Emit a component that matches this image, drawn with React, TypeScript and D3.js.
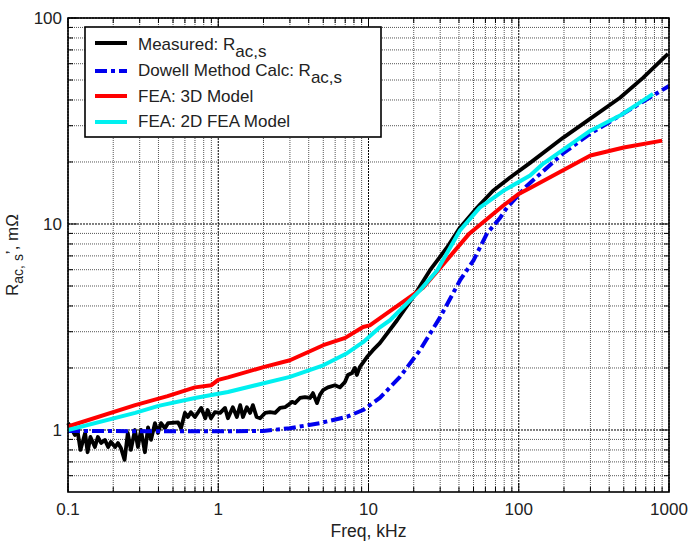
import React from "react";
import * as d3 from "d3";

type Pt = [number, number];

const measured: Pt[] = [
  [0.1, 1.08], [0.105, 1.02], [0.111, 0.946], [0.116, 0.978], [0.121, 0.8], [0.13, 0.967],
  [0.135, 0.78], [0.141, 0.925], [0.151, 0.827], [0.158, 0.925], [0.166, 0.865], [0.176, 0.895],
  [0.185, 0.827], [0.193, 0.875], [0.206, 0.827], [0.215, 0.865], [0.225, 0.818], [0.238, 0.716],
  [0.25, 0.967], [0.262, 0.8], [0.279, 1.0], [0.292, 0.827], [0.306, 1.0], [0.325, 0.78],
  [0.341, 1.03], [0.357, 0.895], [0.379, 1.08], [0.397, 0.967], [0.416, 1.08], [0.442, 1.02],
  [0.464, 1.08], [0.54, 1.09], [0.565, 1.02], [0.6, 1.21], [0.628, 1.156], [0.657, 1.22],
  [0.7, 1.156], [0.73, 1.21], [0.77, 1.28], [0.82, 1.14], [0.85, 1.25], [0.895, 1.14],
  [0.95, 1.22], [1.03, 1.21], [1.11, 1.28], [1.16, 1.14], [1.25, 1.29], [1.33, 1.156],
  [1.4, 1.32], [1.46, 1.156], [1.55, 1.29], [1.63, 1.21], [1.7, 1.32], [1.8, 1.156],
  [1.9, 1.14], [2.05, 1.21], [2.21, 1.22], [2.39, 1.21], [2.58, 1.28], [2.78, 1.29],
  [2.91, 1.32], [3.1, 1.37], [3.24, 1.35], [3.5, 1.43], [3.78, 1.445], [4.08, 1.43],
  [4.27, 1.51], [4.54, 1.35], [4.75, 1.48], [4.98, 1.56], [5.37, 1.61], [5.98, 1.65],
  [6.45, 1.61], [6.97, 1.71], [7.29, 1.85], [7.76, 1.89], [8.12, 2.0], [8.37, 1.85],
  [8.75, 2.02], [9.77, 2.26], [10.7, 2.44], [11.9, 2.64], [15.5, 3.41], [19.8, 4.41],
  [25.6, 5.95], [33.3, 7.69], [40.6, 9.6], [52.7, 12.0], [67.4, 14.5], [87.5, 16.8],
  [119, 19.8], [197, 26.2], [298, 32.4], [472, 41.0], [671, 51.2], [984, 67.0],
];

const dowell: Pt[] = [
  [0.1, 0.99], [0.5, 0.985], [1, 0.985], [2, 0.99], [3, 1.02], [4.75, 1.08], [7.2, 1.16],
  [9.2, 1.25], [11.9, 1.43], [16.2, 1.81], [22, 2.44], [30, 3.53], [40.6, 5.32], [50, 6.66],
  [61.5, 9.0], [75, 10.7], [83.5, 12.0], [113, 15.3], [197, 22.0], [298, 27.4], [494, 34.3],
  [1000, 46.8],
];

const fea3d: Pt[] = [
  [0.1, 1.04], [0.28, 1.32], [0.46, 1.46], [0.7, 1.61], [0.9, 1.65], [1.0, 1.75], [1.16, 1.8],
  [2, 2.02], [3, 2.18], [5, 2.58], [7, 2.8], [9.2, 3.16], [10.2, 3.22], [12, 3.5], [23, 4.9],
  [29, 5.95], [47, 9.0], [79, 12.3], [100, 14.0], [120, 15.0], [300, 21.5], [500, 23.5],
  [900, 25.4],
];

const fea2d: Pt[] = [
  [0.1, 1.0], [0.28, 1.21], [0.4, 1.31], [0.7, 1.43], [1.16, 1.53], [3, 1.81], [5, 2.06],
  [7.2, 2.36], [9.2, 2.67], [11.9, 3.15], [13.9, 3.41], [22, 4.76], [28.6, 5.95], [40.6, 9.3],
  [55, 12.0], [79, 14.5], [119, 17.2], [145, 19.6], [298, 28.3], [472, 33.6], [783, 42.8],
];

const xMajor = [0.1, 1, 10, 100, 1000];
const xTickLabels = ["0.1", "1", "10", "100", "1000"];
const yMajor = [1, 10, 100];
const yTickLabels = ["1", "10", "100"];

const W = 688;
const H = 542;
const L = 68, R = 669, T = 18, B = 492;
const FONT = "'Liberation Sans', Arial, sans-serif";
const TXT = "#222";

export default function App() {
  const x = d3.scaleLog().domain([0.1, 1000]).range([L, R]);
  const y = d3.scaleLog().domain([0.5, 100]).range([B, T]);

  const xMinor: number[] = [];
  [0.1, 1, 10, 100].forEach((d) => { for (let k = 2; k <= 9; k++) xMinor.push(d * k); });
  const yMinor: number[] = [];
  [0.1, 1, 10].forEach((d) => {
    for (let k = 2; k <= 9; k++) { const v = d * k; if (v > 0.5 && v < 100) yMinor.push(v); }
  });

  const line = d3.line<Pt>().x((d) => x(d[0])).y((d) => y(d[1]));

  const legend = [
    { label: "Measured: R", sub: "ac,s", color: "#000", dash: undefined as string | undefined, w: 4 },
    { label: "Dowell Method Calc: R", sub: "ac,s", color: "#0000ee", dash: "12,4,4,4", w: 4 },
    { label: "FEA: 3D Model", sub: "", color: "#ff0000", dash: undefined, w: 4 },
    { label: "FEA: 2D FEA Model", sub: "", color: "#00f0f0", dash: undefined, w: 4 },
  ];
  const legY = [43, 71, 96, 122];
  const legTxtY = [50, 76, 102, 127];

  return (
    <svg width={W} height={H} style={{ position: "absolute", left: 0, top: 0, display: "block", background: "#fff" }}
      fontFamily={FONT}>
      <rect x={0} y={0} width={W} height={H} fill="#fff" />
      {/* minor grid */}
      {xMinor.map((v, i) => (
        <line key={"xm" + i} x1={x(v)} x2={x(v)} y1={T} y2={B} stroke="#555" strokeWidth={1} strokeDasharray="1,1" />
      ))}
      {yMinor.map((v, i) => (
        <line key={"ym" + i} x1={L} x2={R} y1={y(v)} y2={y(v)} stroke="#555" strokeWidth={1} strokeDasharray="1,1" />
      ))}
      {/* major grid */}
      {xMajor.map((v, i) => (
        <line key={"xM" + i} x1={x(v)} x2={x(v)} y1={T} y2={B} stroke="#000" strokeWidth={1} strokeDasharray="2,1" />
      ))}
      {yMajor.map((v, i) => (
        <line key={"yM" + i} x1={L} x2={R} y1={y(v)} y2={y(v)} stroke="#000" strokeWidth={1} strokeDasharray="2,1" />
      ))}
      {/* ticks */}
      {xMinor.map((v, i) => (
        <g key={"xt" + i}>
          <line x1={x(v)} x2={x(v)} y1={B} y2={B - 5} stroke="#000" />
          <line x1={x(v)} x2={x(v)} y1={T} y2={T + 5} stroke="#000" />
        </g>
      ))}
      {xMajor.map((v, i) => (
        <g key={"xT" + i}>
          <line x1={x(v)} x2={x(v)} y1={B} y2={B - 9} stroke="#000" />
          <line x1={x(v)} x2={x(v)} y1={T} y2={T + 9} stroke="#000" />
        </g>
      ))}
      {yMinor.map((v, i) => (
        <g key={"yt" + i}>
          <line x1={L} x2={L + 5} y1={y(v)} y2={y(v)} stroke="#000" />
          <line x1={R} x2={R - 5} y1={y(v)} y2={y(v)} stroke="#000" />
        </g>
      ))}
      {yMajor.map((v, i) => (
        <g key={"yT" + i}>
          <line x1={L} x2={L + 9} y1={y(v)} y2={y(v)} stroke="#000" />
          <line x1={R} x2={R - 9} y1={y(v)} y2={y(v)} stroke="#000" />
        </g>
      ))}

      {/* series */}
      <g fill="none" strokeLinejoin="round">
        <path d={line(measured) || ""} stroke="#000" strokeWidth={3.8} />
        <path d={line(dowell) || ""} stroke="#0000ee" strokeWidth={4} strokeDasharray="12,4,4,4" />
        <path d={line(fea3d) || ""} stroke="#ff0000" strokeWidth={4} />
        <path d={line(fea2d) || ""} stroke="#00f0f0" strokeWidth={4} />
      </g>

      {/* frame */}
      <rect x={L} y={T} width={R - L} height={B - T} fill="none" stroke="#000" strokeWidth={1.6} />

      {/* tick labels */}
      {xMajor.map((v, i) => (
        <text key={"xl" + i} x={x(v)} y={515} textAnchor="middle" fontSize={17} fill={TXT}>{xTickLabels[i]}</text>
      ))}
      {yMajor.map((v, i) => (
        <text key={"yl" + i} x={62} y={y(v) + 6} textAnchor="end" fontSize={17} fill={TXT}>{yTickLabels[i]}</text>
      ))}
      <text x={(L + R) / 2} y={537} textAnchor="middle" fontSize={17.5} fill={TXT}>Freq, kHz</text>
      <text transform={`translate(18, ${(T + B) / 2}) rotate(-90)`} textAnchor="middle" fontSize={17} fill={TXT}>
        R<tspan fontSize={14} dy={5}>ac, s</tspan><tspan dy={-5}>’, mΩ</tspan>
      </text>

      {/* legend */}
      <rect x={85} y={27} width={296} height={110} fill="#fff" stroke="#000" strokeWidth={1.6} />
      {legend.map((e, i) => (
        <g key={"lg" + i}>
          <line x1={95} x2={127} y1={legY[i]} y2={legY[i]} stroke={e.color} strokeWidth={e.w} strokeDasharray={e.dash} />
          <text x={138} y={legTxtY[i]} fontSize={17} fill={TXT}>
            {e.label}
            {e.sub ? <tspan dy={7}>{e.sub}</tspan> : null}
          </text>
        </g>
      ))}
    </svg>
  );
}
